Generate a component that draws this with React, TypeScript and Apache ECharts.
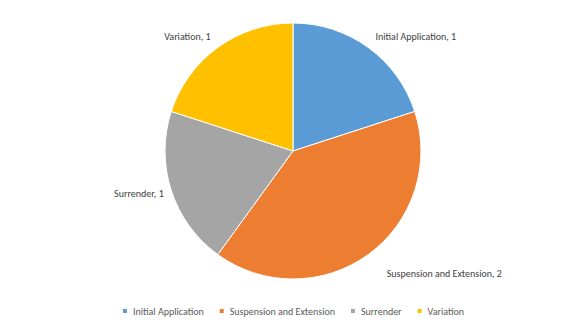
import React, { useEffect, useRef } from "react";
import * as echarts from "echarts";

const categories = ["Initial Application", "Suspension and Extension", "Surrender", "Variation"];
const values = [1, 2, 1, 1];
const colors = ["#5B9BD5", "#ED7D31", "#A5A5A5", "#FFC000"];
const labelLengths = [14, 23, 9, 14];
const labelLengths2 = [-6, 0, -6, -6];

const FONT = "Carlito, Lato, sans-serif";

export default function App() {
  const ref = useRef<HTMLDivElement>(null);
  useEffect(() => {
    if (!ref.current) return;
    const chart = echarts.init(ref.current, undefined, { renderer: "svg" });
    chart.setOption({
      animation: false,
      backgroundColor: "#ffffff",
      color: colors,
      legend: {
        bottom: 5,
        left: "center",
        icon: "rect",
        itemWidth: 6,
        itemHeight: 6,
        itemGap: 14,
        textStyle: { color: "#595959", fontSize: 10, fontFamily: FONT },
        data: categories,
      },
      series: [
        {
          type: "pie",
          center: [293, 151],
          radius: 128,
          startAngle: 90,
          clockwise: true,
          avoidLabelOverlap: false,
          itemStyle: { borderColor: "#ffffff", borderWidth: 1 },
          label: {
            show: true,
            position: "outside",
            formatter: "{b}, {c}",
            color: "#404040",
            fontSize: 10,
            fontFamily: FONT,
          },
          labelLine: { show: false, length: 10, length2: 0 },
          emphasis: { disabled: true },
          data: categories.map((name, i) => ({
            name,
            value: values[i],
            labelLine: { show: false, length: labelLengths[i], length2: labelLengths2[i] },
          })),
        },
      ],
    });
    return () => chart.dispose();
  }, []);
  return <div ref={ref} style={{ width: 585, height: 326, position: "absolute", left: 0, top: 0 }} />;
}
